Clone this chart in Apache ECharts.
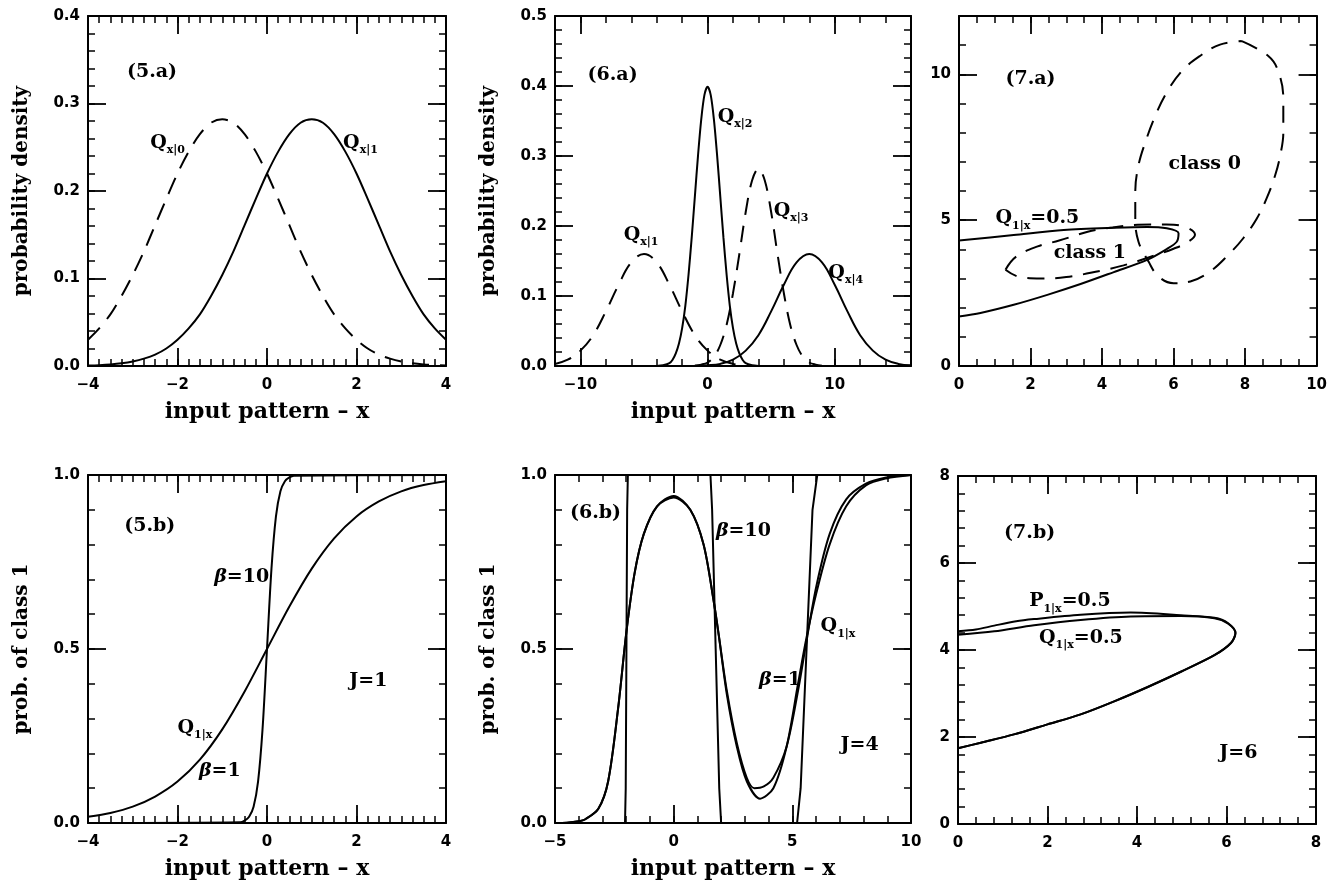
<!DOCTYPE html>
<html>
<head>
<meta charset="utf-8">
<script src="https://cdn.jsdelivr.net/npm/echarts@6/dist/echarts.min.js"></script>
<style>
html, body { margin: 0; background: #fff; }
#chart { width: 1330px; height: 884px; }
</style>
</head>
<body>
<div id="chart"></div>
<script>
// (5.a) probability densities
var x5a = [-4, -3.75, -3.5, -3.25, -3, -2.75, -2.5, -2.25, -2, -1.75, -1.5, -1.25, -1, -0.75, -0.5, -0.25,
  0, 0.25, 0.5, 0.75, 1, 1.25, 1.5, 1.75, 2, 2.25, 2.5, 2.75, 3, 3.25, 3.5, 3.75, 4];
var q5aX1 = [0.0005, 0.001, 0.0018, 0.0031, 0.0052, 0.0084, 0.013, 0.020, 0.030, 0.043, 0.059, 0.080, 0.104, 0.131,
  0.161, 0.191, 0.220, 0.245, 0.265, 0.278, 0.282, 0.278, 0.265, 0.245, 0.220, 0.191, 0.161, 0.131, 0.104, 0.080,
  0.059, 0.043, 0.030];
var q5aX0 = [0.030, 0.043, 0.059, 0.080, 0.104, 0.131, 0.161, 0.191, 0.220, 0.245, 0.265, 0.278, 0.282, 0.278,
  0.265, 0.245, 0.220, 0.191, 0.161, 0.131, 0.104, 0.080, 0.059, 0.043, 0.030, 0.020, 0.013, 0.0084, 0.0052,
  0.0031, 0.0018, 0.001, 0.0005];

// (6.a)
var x6aQ1 = [-12, -11, -10, -9, -8, -7, -6, -5, -4, -3, -2, -1, 0, 1, 2, 3];
var q6aQ1 = [0.003, 0.009, 0.022, 0.044, 0.078, 0.116, 0.148, 0.160, 0.148, 0.116, 0.078, 0.044, 0.022, 0.009, 0.003, 0.001];
var x6aQ2 = [-4, -3.5, -3, -2.75, -2.5, -2.25, -2, -1.75, -1.5, -1.25, -1, -0.75, -0.5, -0.25, 0,
  0.25, 0.5, 0.75, 1, 1.25, 1.5, 1.75, 2, 2.25, 2.5, 2.75, 3, 3.5, 4];
var q6aQ2 = [0.000, 0.001, 0.004, 0.009, 0.018, 0.032, 0.054, 0.086, 0.130, 0.183, 0.242, 0.301, 0.352, 0.387, 0.399,
  0.387, 0.352, 0.301, 0.242, 0.183, 0.130, 0.086, 0.054, 0.032, 0.018, 0.009, 0.004, 0.001, 0.000];
var x6aQ3 = [-1, -0.5, 0, 0.5, 1, 1.5, 2, 2.5, 3, 3.5, 4, 4.5, 5, 5.5, 6, 6.5, 7, 7.5, 8, 8.5, 9];
var q6aQ3 = [0.0005, 0.002, 0.005, 0.013, 0.030, 0.059, 0.104, 0.160, 0.220, 0.265, 0.282, 0.265, 0.220, 0.160, 0.104, 0.059, 0.030, 0.013, 0.005, 0.002, 0.0005];
var x6aQ4 = [-1, 0, 1, 2, 3, 4, 5, 6, 7, 8, 9, 10, 11, 12, 13, 14, 15, 16];
var q6aQ4 = [0.0002, 0.001, 0.003, 0.009, 0.022, 0.044, 0.078, 0.116, 0.148, 0.160, 0.148, 0.116, 0.078, 0.044, 0.022, 0.009, 0.003, 0.001];

// (7.a) contours
var c7aClass0 = [[7.91, 11.14], [8.65, 10.63], [8.93, 10.1], [9.07, 9.15], [9.07, 8.0], [8.98, 7.2], [8.84, 6.53],
  [8.6, 5.74], [8.33, 5.06], [7.95, 4.38], [7.53, 3.81], [7.02, 3.24], [6.47, 2.9], [6.0, 2.84], [5.58, 3.07],
  [5.3, 3.58], [5.02, 4.26], [4.93, 5.06], [4.93, 5.97], [5.02, 6.88], [5.21, 7.67], [5.49, 8.58], [5.81, 9.38],
  [6.23, 10.11], [6.74, 10.63], [7.3, 11.02], [7.91, 11.14]];
var c7aClass1 = [[1.3, 3.3], [1.6, 3.75], [2.2, 4.1], [2.8, 4.3], [3.6, 4.6], [4.3, 4.75], [5.0, 4.84], [5.8, 4.85],
  [6.3, 4.78], [6.6, 4.5], [6.4, 4.25], [6.0, 4.02], [5.3, 3.72], [4.6, 3.45], [3.9, 3.25], [3.0, 3.05],
  [2.3, 3.0], [1.7, 3.05], [1.3, 3.3]];
var c7aQ = [[0, 4.30], [1.53, 4.49], [2.93, 4.66], [4.33, 4.74], [5.26, 4.77], [5.81, 4.72], [6.14, 4.55],
  [6.09, 4.26], [5.81, 4.01], [5.26, 3.64], [4.33, 3.22], [3.4, 2.81], [2.47, 2.44], [1.53, 2.1], [0.6, 1.82], [0, 1.70]];

// (5.b)
var x5bB1 = [-4, -3.5, -3, -2.5, -2, -1.5, -1, -0.5, 0, 0.5, 1, 1.5, 2, 2.5, 3, 3.5, 4];
var p5bB1 = [0.018, 0.029, 0.047, 0.076, 0.119, 0.182, 0.269, 0.378, 0.5, 0.622, 0.731, 0.818, 0.881, 0.924, 0.953, 0.971, 0.982];
var x5bB10 = [-4, -0.6, -0.5, -0.4, -0.3, -0.2, -0.1, 0, 0.1, 0.2, 0.3, 0.4, 0.5, 0.6, 4];
var p5bB10 = [0, 0.002, 0.007, 0.018, 0.047, 0.119, 0.269, 0.5, 0.731, 0.881, 0.953, 0.982, 0.993, 0.998, 1];

// (6.b)
var x6bB1 = [-5, -4.5, -4, -3.74, -3.18, -2.76, -2.34, -1.99, -1.64, -1.26, -0.7, 0, 0.7, 1.26, 1.68, 1.9, 2.24, 2.66,
  3.08, 3.64, 4.2, 4.76, 5.24, 5.59, 6.01, 6.57, 7.27, 8.1, 8.95, 10];
var p6bB1 = [0, 0.001, 0.005, 0.01, 0.04, 0.12, 0.33, 0.55, 0.72, 0.83, 0.91, 0.94, 0.90, 0.80, 0.64, 0.54, 0.37, 0.22,
  0.12, 0.07, 0.10, 0.22, 0.40, 0.53, 0.66, 0.80, 0.91, 0.97, 0.99, 1.0];
var x6bQ = [-5, -4.5, -4, -3.74, -3.18, -2.76, -2.34, -1.99, -1.64, -1.26, -0.7, 0, 0.7, 1.26, 1.68, 1.9, 2.24, 2.66,
  3.08, 3.4, 3.8, 4.2, 4.76, 5.24, 5.59, 6.01, 6.57, 7.27, 8.1, 8.95, 10];
var p6bQ = [0, 0.001, 0.005, 0.01, 0.04, 0.12, 0.33, 0.55, 0.72, 0.83, 0.91, 0.935, 0.90, 0.80, 0.64, 0.54, 0.38, 0.23,
  0.13, 0.10, 0.105, 0.13, 0.22, 0.38, 0.52, 0.68, 0.83, 0.93, 0.975, 0.993, 1.0];
var x6bB10 = [-5, -2.05, -2.02, -1.99, -1.96, -1.93, 1.55, 1.62, 1.77, 1.92, 2.0, 5.2, 5.35, 5.6, 5.85, 6.05, 10];
var p6bB10 = [0, 0, 0.1, 0.5, 0.9, 1, 1, 0.9, 0.5, 0.1, 0, 0, 0.1, 0.5, 0.9, 1, 1];

// (7.b)
var c7bUpperP = [[0, 4.43], [0.4, 4.47], [0.81, 4.56], [1.3, 4.66], [1.7, 4.71], [2.74, 4.81], [3.86, 4.86],
  [4.98, 4.80], [5.73, 4.74], [6.03, 4.62], [6.2, 4.39]];
var c7bUpperQ = [[0, 4.35], [0.81, 4.43], [1.7, 4.57], [2.74, 4.69], [3.86, 4.77], [4.98, 4.78], [5.73, 4.73],
  [6.03, 4.61], [6.2, 4.39]];
var c7bLower = [[6.2, 4.39], [6.1, 4.16], [5.73, 3.88], [4.98, 3.5], [4.24, 3.15], [3.49, 2.82], [2.74, 2.52],
  [2.0, 2.29], [1.25, 2.06], [0.51, 1.87], [0, 1.74]];

// tick values
var ticks5aX = [-4, -2, 0, 2, 4], ticks5aY = [0, 0.1, 0.2, 0.3, 0.4];
var ticks6aX = [-10, 0, 10], ticks6aY = [0, 0.1, 0.2, 0.3, 0.4, 0.5];
var ticks7aX = [0, 2, 4, 6, 8, 10], ticks7aY = [0, 5, 10];
var ticksProbY = [0, 0.5, 1];
var ticks6bX = [-5, 0, 5, 10];
var ticks7bXY = [0, 2, 4, 6, 8];

var SERIF = '"DejaVu Serif", "Liberation Serif", serif';
var SANS = '"DejaVu Sans", sans-serif';
var INK = '#000';

function zip(xs, ys) { return xs.map(function (x, i) { return [x, ys[i]]; }); }
function fmtInt(v) { return String(Math.round(v)).replace('-', '\u2212'); }
function fmt1(v) { return v.toFixed(1); }

var grids = [], xAxes = [], yAxes = [], series = [];

function makeAxis(gi, pos, a, kind, name) {
  var vertical = pos === 'left' || pos === 'right';
  var o = {
    type: 'value', gridIndex: gi, position: pos,
    min: a.min, max: a.max, interval: a.step,
    splitLine: { show: false },
    axisLine: { show: kind !== 'major', onZero: false, lineStyle: { color: INK, width: 2 } },
    axisTick: kind === 'major'
      ? { show: true, inside: true, length: 18, customValues: a.major, lineStyle: { color: INK, width: 1.8 } }
      : { show: true, inside: true, length: 7, lineStyle: { color: INK, width: 1.5 } },
    axisLabel: kind === 'main'
      ? { show: true, customValues: a.labels, formatter: a.fmt, margin: vertical ? 8 : 12,
          color: INK, fontFamily: SANS, fontWeight: 'bold', fontSize: 15 }
      : { show: false }
  };
  if (name) {
    o.name = name;
    o.nameLocation = 'middle';
    o.nameGap = vertical ? 56 : 35;
    o.nameTextStyle = { color: INK, fontFamily: SERIF, fontWeight: 'bold', fontSize: vertical ? 20 : 22 };
  }
  return o;
}

function addPanel(box, xa, ya, xName, yName) {
  var gi = grids.length;
  grids.push({ left: box[0], top: box[1], width: box[2], height: box[3] });
  var ax = { x: xAxes.length, y: yAxes.length };
  xAxes.push(makeAxis(gi, 'bottom', xa, 'main', xName));
  xAxes.push(makeAxis(gi, 'bottom', xa, 'major'));
  xAxes.push(makeAxis(gi, 'top', xa, 'plain'));
  xAxes.push(makeAxis(gi, 'top', xa, 'major'));
  yAxes.push(makeAxis(gi, 'left', ya, 'main', yName));
  yAxes.push(makeAxis(gi, 'left', ya, 'major'));
  yAxes.push(makeAxis(gi, 'right', ya, 'plain'));
  yAxes.push(makeAxis(gi, 'right', ya, 'major'));
  return ax;
}

function line(ax, data, dashed, smooth) {
  series.push({
    type: 'line', xAxisIndex: ax.x, yAxisIndex: ax.y, data: data,
    symbol: 'none', showSymbol: false, smooth: smooth, silent: true, animation: false, z: 3,
    lineStyle: { color: INK, width: 2, type: dashed ? [17, 11] : 'solid' }
  });
}

var RICH = {
  t: { color: INK, fontFamily: SERIF, fontWeight: 'bold', fontSize: 19, lineHeight: 26 },
  b: { color: INK, fontFamily: SERIF, fontWeight: 'bold', fontStyle: 'italic', fontSize: 19, lineHeight: 26 },
  s: { color: INK, fontFamily: SERIF, fontWeight: 'bold', fontSize: 11, lineHeight: 14, verticalAlign: 'bottom' }
};

function notes(ax, list) {
  series.push({
    type: 'scatter', xAxisIndex: ax.x, yAxisIndex: ax.y, symbolSize: 0, silent: true, animation: false, z: 5,
    itemStyle: { color: INK, opacity: 1 },
    data: list.map(function (n) { return { value: [n[1], n[2]], label: { formatter: n[0] } }; }),
    label: { show: true, position: 'right', distance: 0, color: INK, opacity: 1, rich: RICH }
  });
}

var XNAME = 'input pattern \u2013 x';

// top row
var a5a = addPanel([88, 16, 358, 350],
  { min: -4, max: 4, step: 0.25, major: [-2, 0, 2], labels: ticks5aX, fmt: fmtInt },
  { min: 0, max: 0.4, step: 0.02, major: [0.1, 0.2, 0.3], labels: ticks5aY, fmt: fmt1 },
  XNAME, 'probability density');
line(a5a, zip(x5a, q5aX0), true, 0.3);
line(a5a, zip(x5a, q5aX1), false, 0.3);
notes(a5a, [['{t|(5.a)}', -3.13, 0.336], ['{t|Q}{s|x|0}', -2.61, 0.255], ['{t|Q}{s|x|1}', 1.70, 0.255]]);

var a6a = addPanel([555, 16, 356, 350],
  { min: -12, max: 16, step: 2, major: [-10, 0, 10], labels: ticks6aX, fmt: fmtInt },
  { min: 0, max: 0.5, step: 0.02, major: [0.1, 0.2, 0.3, 0.4], labels: ticks6aY, fmt: fmt1 },
  XNAME, 'probability density');
line(a6a, zip(x6aQ1, q6aQ1), true, 0.4);
line(a6a, zip(x6aQ3, q6aQ3), true, 0.35);
line(a6a, zip(x6aQ2, q6aQ2), false, 0.3);
line(a6a, zip(x6aQ4, q6aQ4), false, 0.4);
notes(a6a, [['{t|(6.a)}', -9.44, 0.416], ['{t|Q}{s|x|2}', 0.8, 0.356], ['{t|Q}{s|x|3}', 5.2, 0.222],
  ['{t|Q}{s|x|1}', -6.6, 0.187], ['{t|Q}{s|x|4}', 9.5, 0.133]]);

var a7a = addPanel([959, 16, 358, 350],
  { min: 0, max: 10, step: 0.5, major: [2, 4, 6, 8], labels: ticks7aX, fmt: fmtInt },
  { min: 0, max: 12, step: 1, major: [5, 10], labels: ticks7aY, fmt: fmtInt },
  null, null);
line(a7a, c7aClass0, true, 0.4);
line(a7a, c7aClass1, true, 0.4);
line(a7a, c7aQ, false, 0.3);
notes(a7a, [['{t|(7.a)}', 1.30, 9.83], ['{t|class 0}', 5.86, 6.93], ['{t|Q}{s|1|x}{t|=0.5}', 1.02, 5.06],
  ['{t|class 1}', 2.65, 3.86]]);

// bottom row
var a5b = addPanel([88, 475, 358, 348],
  { min: -4, max: 4, step: 0.25, major: [-2, 0, 2], labels: ticks5aX, fmt: fmtInt },
  { min: 0, max: 1, step: 0.1, major: [0.5], labels: ticksProbY, fmt: fmt1 },
  XNAME, 'prob. of class 1');
line(a5b, zip(x5bB1, p5bB1), false, 0.3);
line(a5b, zip(x5bB10, p5bB10), false, 0.3);
notes(a5b, [['{t|(5.b)}', -3.19, 0.852], ['{b|\u03b2}{t|=10}', -1.18, 0.708], ['{t|J=1}', 1.84, 0.407],
  ['{t|Q}{s|1|x}', -2.0, 0.273], ['{b|\u03b2}{t|=1}', -1.52, 0.148]]);

var a6b = addPanel([555, 475, 356, 348],
  { min: -5, max: 10, step: 1, major: [0, 5], labels: ticks6bX, fmt: fmtInt },
  { min: 0, max: 1, step: 0.1, major: [0.5], labels: ticksProbY, fmt: fmt1 },
  XNAME, 'prob. of class 1');
line(a6b, zip(x6bB1, p6bB1), false, 0.3);
line(a6b, zip(x6bQ, p6bQ), false, 0.3);
line(a6b, zip(x6bB10, p6bB10), false, false);
notes(a6b, [['{t|(6.b)}', -4.37, 0.89], ['{b|\u03b2}{t|=10}', 1.78, 0.84], ['{t|Q}{s|1|x}', 6.19, 0.565],
  ['{b|\u03b2}{t|=1}', 3.6, 0.41], ['{t|J=4}', 7.03, 0.225]]);

var a7b = addPanel([958, 476, 358, 348],
  { min: 0, max: 8, step: 0.4, major: [2, 4, 6], labels: ticks7bXY, fmt: fmtInt },
  { min: 0, max: 8, step: 0.4, major: [2, 4, 6], labels: ticks7bXY, fmt: fmtInt },
  null, null);
line(a7b, c7bUpperP.concat(c7bLower.slice(1)), false, 0.3);
line(a7b, c7bUpperQ.concat(c7bLower.slice(1)), false, 0.3);
notes(a7b, [['{t|(7.b)}', 1.03, 6.68], ['{t|P}{s|1|x}{t|=0.5}', 1.59, 5.12], ['{t|Q}{s|1|x}{t|=0.5}', 1.81, 4.28],
  ['{t|J=6}', 5.84, 1.64]]);

var chart = echarts.init(document.getElementById('chart'));
chart.setOption({
  backgroundColor: '#fff',
  animation: false,
  grid: grids,
  xAxis: xAxes,
  yAxis: yAxes,
  series: series
});
</script>
</body>
</html>
